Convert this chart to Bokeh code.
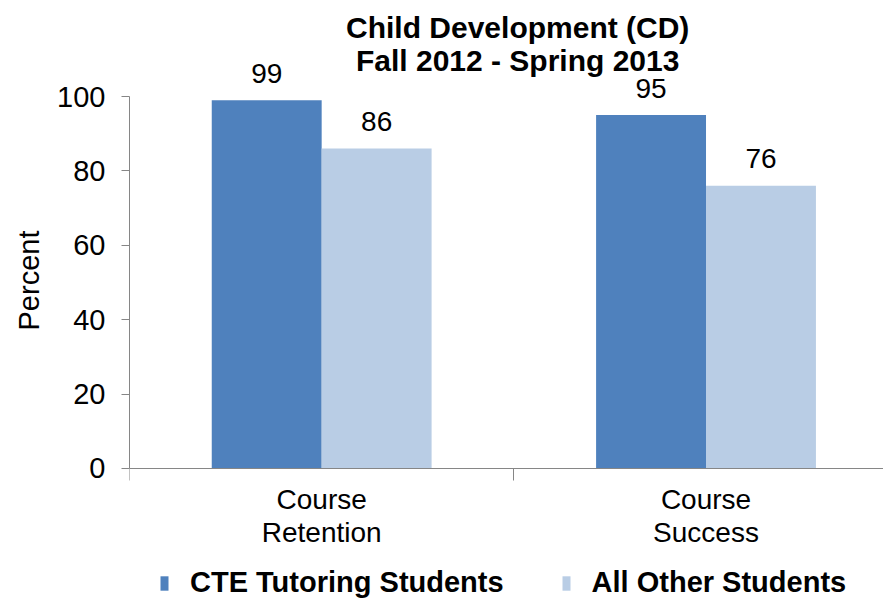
from bokeh.plotting import figure
from bokeh.models import Range1d, FixedTicker, ColumnDataSource, Legend, LegendItem, Title
from bokeh.core.properties import value
from bokeh.embed import file_html
from bokeh.resources import INLINE

categories = ["Course\nRetention", "Course\nSuccess"]
series_names = ["CTE Tutoring Students", "All Other Students"]
cte_values = [99, 95]
other_values = [86, 76]
title_lines = ["Child Development (CD)", "Fall 2012 - Spring 2013"]
y_label = "Percent"
y_ticks = [0, 20, 40, 60, 80, 100]

DARK = "#4F81BD"
LIGHT = "#B9CDE5"
AXIS = "#868686"
FONT = "Liberation Sans"

cat_pos = [i + 0.5 for i in range(len(categories))]
bar_w = 0.286

p = figure(frame_width=761, frame_height=591, output_backend="svg", toolbar_location=None,
           x_range=Range1d(0, 1.98), y_range=Range1d(-35.22, 123.66),
           min_border_left=106, min_border_right=0, min_border_top=8, min_border_bottom=0)
p.outline_line_color = None
p.xgrid.grid_line_color = None
p.ygrid.grid_line_color = None
p.background_fill_color = "white"
p.border_fill_color = "white"

src_a = ColumnDataSource(dict(x=[c - bar_w / 2 for c in cat_pos], top=cte_values,
                              lab=[str(v) for v in cte_values]))
src_b = ColumnDataSource(dict(x=[c + bar_w / 2 for c in cat_pos], top=other_values,
                              lab=[str(v) for v in other_values]))
r_a = p.vbar(x="x", top="top", bottom=0, width=bar_w, source=src_a, fill_color=DARK, line_color=None)
r_b = p.vbar(x="x", top="top", bottom=0, width=bar_w, source=src_b, fill_color=LIGHT, line_color=None)

for s in (src_a, src_b):
    p.text(x="x", y="top", text="lab", source=s, text_align="center", text_baseline="alphabetic",
           y_offset=-27, text_font=value(FONT), text_font_size="28px", text_color="black")

# title
p.text(x=[1.01, 1.01], y=[118.55, 109.7], text=title_lines, text_align="center",
       text_baseline="middle", text_font=value(FONT), text_font_size="30px",
       text_font_style="bold", text_color="black")

# x axis (drawn at y = 0)
xa = p.xaxis[0]
xa.fixed_location = 0
xa.ticker = FixedTicker(ticks=cat_pos, minor_ticks=[0, 1, 2])
xa.major_label_overrides = {c: lab for c, lab in zip(cat_pos, categories)}
xa.major_tick_line_color = None
xa.major_tick_out = 0
xa.major_tick_in = 0
xa.minor_tick_line_color = AXIS
xa.minor_tick_out = 12
xa.minor_tick_in = 0
xa.axis_line_color = AXIS
xa.major_label_text_font = FONT
xa.major_label_text_font_size = "28px"
xa.major_label_text_line_height = 1.05
xa.major_label_text_color = "black"
xa.major_label_standoff = 4

# y axis
ya = p.yaxis[0]
ya.ticker = FixedTicker(ticks=y_ticks, minor_ticks=[])
ya.bounds = (0, 100)
ya.axis_line_color = AXIS
ya.major_tick_line_color = AXIS
ya.major_tick_out = 8
ya.major_tick_in = 0
ya.major_label_standoff = 16
ya.major_label_text_font = FONT
ya.major_label_text_font_size = "29px"
ya.major_label_text_color = "black"

ylab = Title(text=y_label, align="left", offset=269, standoff=20,
             text_font=FONT, text_font_size="29px", text_font_style="normal",
             text_color="black")
p.add_layout(ylab, "left")

legend = Legend(items=[LegendItem(label=series_names[0], renderers=[r_a]),
                       LegendItem(label=series_names[1], renderers=[r_b])],
                orientation="horizontal", location=(30, 0),
                label_text_font=FONT, label_text_font_size="29px",
                label_text_font_style="bold", label_text_color="black",
                glyph_width=10, glyph_height=18, label_standoff=21, spacing=57,
                border_line_color=None, background_fill_alpha=0, margin=0, padding=0)
p.add_layout(legend, "center")

open("out.html", "w").write(file_html(p, INLINE))
